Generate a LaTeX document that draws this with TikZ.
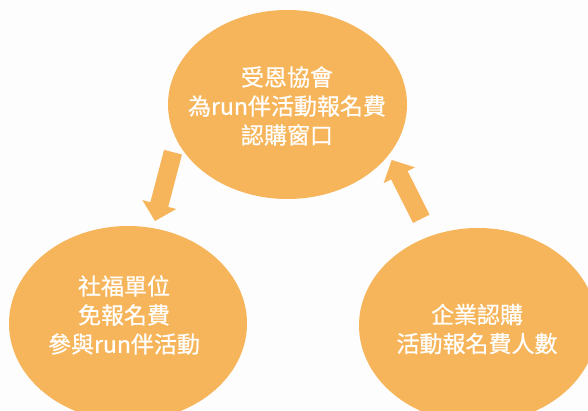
\documentclass[tikz,border=0pt]{standalone}
\usepackage{fontspec}
\setmainfont{Noto Sans CJK TC}[FakeBold=0.6]
\usetikzlibrary{shapes.geometric,calc}
\definecolor{orfill}{HTML}{F7B55B}
\definecolor{bgc}{HTML}{FDFDFD}
\tikzset{
  bubble/.style={ellipse, fill=orfill, draw=none, inner sep=0pt},
  btext/.style={text=white, align=center, font=\fontsize{23}{29}\selectfont, inner sep=0pt},
  arrowfill/.style={fill=orfill, draw=none}
}
\newcommand\blockarrow[3]{%
  \coordinate (#1n) at ($(#3)!17pt!(#2)$);
  \fill[arrowfill] ($(#2)!9.25pt!90:(#3)$) -- ($(#1n)!9.25pt!-90:(#2)$)
    -- ($(#1n)!17.5pt!-90:(#2)$) -- (#3) -- ($(#1n)!17.5pt!90:(#2)$)
    -- ($(#1n)!9.25pt!90:(#2)$) -- ($(#2)!9.25pt!-90:(#3)$) -- cycle;
}
\begin{document}
\begin{tikzpicture}[x=1pt,y=-1pt]
\fill[bgc] (0,0) rectangle (588,411);
\useasboundingbox (0,0) rectangle (588,411);
\begin{scope}
\clip (0,0) rectangle (588,411);
\node[bubble, minimum width=239pt, minimum height=189pt] (top) at (287.5,104.5) {};
\node[bubble, minimum width=238pt, minimum height=195pt] (left) at (128,323.5) {};
\node[bubble, minimum width=238pt, minimum height=195pt] (right) at (478,325.5) {};
\end{scope}
\node[btext] (toptext) at (287,106) {受恩協會\\為run伴活動報名費\\認購窗口};
\node[btext] (lefttext) at (124,315) {社福單位\\免報名費\\參與run伴活動};
\node[btext] (righttext) at (477,329) {企業認購\\活動報名費人數};
\coordinate (a1s) at (173,152.2);
\coordinate (a1e) at (155,221);
\coordinate (a2s) at (421.3,218.8);
\coordinate (a2e) at (391.7,160);
\blockarrow{a1}{a1s}{a1e}
\blockarrow{a2}{a2s}{a2e}
\end{tikzpicture}
\end{document}
